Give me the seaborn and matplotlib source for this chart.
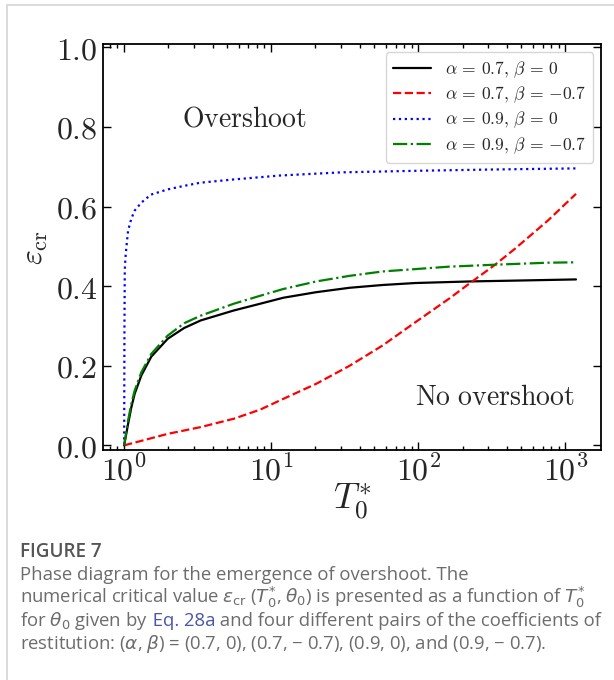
import numpy as np
import pandas as pd
import matplotlib
matplotlib.use("Agg")
import matplotlib.pyplot as plt
import matplotlib.ticker as mticker
from matplotlib.lines import Line2D
import seaborn as sns

# Critical value eps_cr as a function of T0* for four (alpha, beta) pairs
t_a07_b0 = [1.0, 1.064, 1.12, 1.18, 1.31, 1.53, 1.98, 2.56, 3.32, 5.57, 8.43,
            12.1, 20.3, 34.1, 57.2, 96, 229, 454, 1181]
eps_a07_b0 = [0.0, 0.054, 0.096, 0.13, 0.176, 0.223, 0.268, 0.295, 0.314, 0.339,
              0.356, 0.371, 0.385, 0.396, 0.403, 0.408, 0.412, 0.414, 0.417]

t_a07_bm07 = [1.0, 1.98, 3.32, 5.57, 8.43, 12.1, 20.3, 34.1, 57.2, 96, 161,
              229, 333, 454, 761, 1181]
eps_a07_bm07 = [0.0, 0.029, 0.046, 0.067, 0.09, 0.117, 0.155, 0.2, 0.251,
                0.31, 0.368, 0.41, 0.454, 0.494, 0.565, 0.632]

t_a09_b0 = [1.0, 1.005, 1.01, 1.02, 1.037, 1.064, 1.12, 1.18, 1.31, 1.52, 1.97,
            2.55, 3.3, 5.5, 11.4, 30, 100, 300, 1200]
eps_a09_b0 = [0.0, 0.30, 0.44, 0.47, 0.50, 0.54, 0.57, 0.59, 0.61, 0.63, 0.643,
              0.652, 0.66, 0.668, 0.678, 0.686, 0.690, 0.693, 0.696]

t_a09_bm07 = [1.0, 1.064, 1.12, 1.18, 1.31, 1.53, 1.98, 2.56, 3.32, 5.57, 8.43,
              12.1, 20.3, 34.1, 57.2, 96, 161, 333, 761, 1181]
eps_a09_bm07 = [0.0, 0.063, 0.105, 0.138, 0.184, 0.23, 0.276, 0.307, 0.326,
                0.356, 0.376, 0.393, 0.412, 0.426, 0.437, 0.443, 0.449, 0.454,
                0.459, 0.46]

labels = [r"$\alpha\,=\,0.7,\,\beta\,=\,0$",
          r"$\alpha\,=\,0.7,\,\beta\,=\,{-0.7}$",
          r"$\alpha\,=\,0.9,\,\beta\,=\,0$",
          r"$\alpha\,=\,0.9,\,\beta\,=\,{-0.7}$"]
colors = ["black", "red", "blue", "green"]
styles = ["-", "--", ":", "-."]

y_ticks = [0.0, 0.2, 0.4, 0.6, 0.8, 1.0]
x_ticks = [1, 10, 100, 1000]

sns.set_style("ticks")
plt.rcParams["mathtext.fontset"] = "cm"
plt.rcParams["font.family"] = ["DejaVu Sans"]

fig = plt.figure(figsize=(6.14, 6.8), dpi=100)
ax = fig.add_axes([0.168, 0.338, 0.811, 0.597])

series = [(t_a07_b0, eps_a07_b0), (t_a07_bm07, eps_a07_bm07),
          (t_a09_b0, eps_a09_b0), (t_a09_bm07, eps_a09_bm07)]
for (t, e), lab, c, ls in zip(series, labels, colors, styles):
    df = pd.DataFrame({"T": t, "eps": e})
    sns.lineplot(data=df, x="T", y="eps", ax=ax, color=c, linestyle=ls,
                 linewidth=1.6, label=lab, estimator=None, sort=False)

ax.set_xscale("log")
ax.set_xlim(0.72, 1750)
ax.set_ylim(-0.012, 1.008)
ax.set_yticks(y_ticks)
ax.set_xticks(x_ticks)
ax.yaxis.set_major_formatter(mticker.FuncFormatter(lambda v, _: rf"${v:.1f}$"))
ax.xaxis.set_major_formatter(mticker.FuncFormatter(
    lambda v, _: rf"$10^{{{int(round(np.log10(v)))}}}$"))
ax.xaxis.set_minor_locator(mticker.LogLocator(base=10, subs=np.arange(2, 10)))
ax.xaxis.set_minor_formatter(mticker.NullFormatter())
ax.yaxis.set_minor_locator(mticker.NullLocator())
ax.tick_params(which="both", direction="in", top=True, right=True,
               labelsize=23, width=1.0, color="black")
ax.tick_params(which="major", length=6, pad=4)
ax.tick_params(which="minor", length=3)
for s in ax.spines.values():
    s.set_linewidth(1.3)
    s.set_color("black")

ax.set_xlabel(r"$T_0^{*}$", fontsize=26, labelpad=-4)
ax.set_ylabel(r"$\varepsilon_{\rm cr}$", fontsize=23, labelpad=4)

ax.text(0.159, 0.818, r"$\mathrm{Overshoot}$", transform=ax.transAxes,
        fontsize=20, ha="left", va="center")
ax.text(0.948, 0.13, r"$\mathrm{No\ overshoot}$", transform=ax.transAxes,
        fontsize=20, ha="right", va="center")

leg = ax.legend(loc="upper right", fontsize=12.6, frameon=True, fancybox=True,
                edgecolor="#cccccc", handlelength=2.2, borderpad=0.4,
                labelspacing=0.28, handletextpad=0.8, borderaxespad=0.45)
leg.get_frame().set_linewidth(1.0)

# page frame lines
fig.add_artist(Line2D([7 / 614, 7 / 614], [0, 1 - 5 / 680], transform=fig.transFigure,
                      color="#d6d6d6", lw=1.2))
fig.add_artist(Line2D([7 / 614, 1], [1 - 5 / 680, 1 - 5 / 680], transform=fig.transFigure,
                      color="#d6d6d6", lw=1.2))

# caption
cap_color = "#6c6c6c"
link_color = "#4b55a8"
cap_font = ["Open Sans", "DejaVu Sans"]
cap_size = 13.3
x0 = 20 / 614
fig.text(x0, 1 - 557 / 680, "FIGURE 7", fontsize=13.6, fontweight="semibold",
         color="#555555", family=cap_font, va="baseline")

renderer = fig.canvas.get_renderer()


def caption_line(y_px, parts):
    x = x0
    for txt, col in parts:
        t = fig.text(x, 1 - y_px / 680, txt, fontsize=cap_size, color=col,
                     family=cap_font, va="baseline", math_fontfamily="dejavusans")
        bb = t.get_window_extent(renderer)
        x = bb.x1 / fig.bbox.width


caption_line(580, [("Phase diagram for the emergence of overshoot. The", cap_color)])
caption_line(603, [(r"numerical critical value $\varepsilon_{\rm cr}$ ($T_0^{*}$, $\theta_0$) "
                    r"is presented as a function of $T_0^{*}$", cap_color)])
caption_line(626, [(r"for $\theta_0$ given by", cap_color), (" Eq. 28a", link_color),
                   (" and four different pairs of the coefficients of", cap_color)])
caption_line(649, [("restitution: ($\\alpha$, $\\beta$) = (0.7, 0), (0.7, \u2212 0.7), "
                    "(0.9, 0), and (0.9, \u2212 0.7).", cap_color)])

fig.savefig("out.png", dpi=100)
